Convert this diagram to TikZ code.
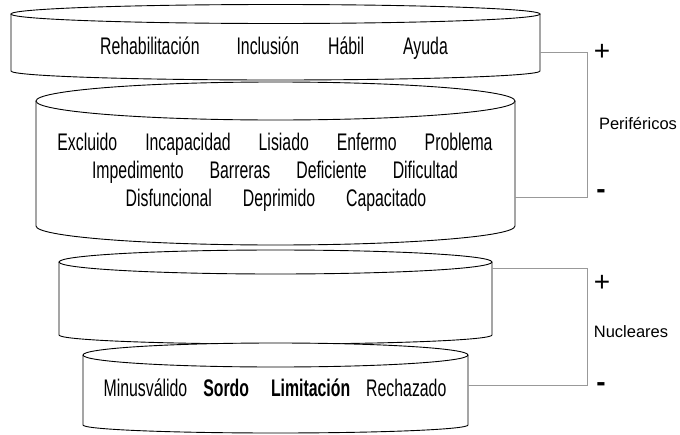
\documentclass[tikz,border=0pt]{standalone}
\usepackage{fontspec}
\setmainfont{Liberation Sans}
\newfontfamily\agency[FakeStretch=0.66]{Liberation Sans}

\begin{document}
\begin{tikzpicture}[x=1pt,y=-1pt]
			\tikzset{drum/.style={draw=black,line width=0.9pt,fill=white}}
			\tikzset{word/.style={font=\agency\fontsize{24}{28}\selectfont,anchor=base,inner sep=0pt}}
			\tikzset{bracket/.style={draw=gray!80,line width=0.8pt}}
			\tikzset{sign/.style={font=\fontsize{28}{32}\selectfont,anchor=base,inner sep=0pt}}
			\tikzset{group/.style={font=\fontsize{16.5}{20}\selectfont,anchor=base,inner sep=0pt}}
			\useasboundingbox (0,0) rectangle (680,434);
			\path[drum] (11,14) -- (11,71) arc[start angle=180,end angle=360,x radius=264.5pt,y radius=9pt] -- (540,14);
			\path[drum] (275.5,14) ellipse[x radius=264.5pt,y radius=9.5pt];
			\path[drum] (36,101) -- (36,226) arc[start angle=180,end angle=360,x radius=239.5pt,y radius=19pt] -- (515,101);
			\path[drum] (275.5,101) ellipse[x radius=239.5pt,y radius=19pt];
			\path[drum] (59,262) -- (59,335) arc[start angle=180,end angle=360,x radius=216.5pt,y radius=9pt] -- (492,262);
			\path[drum] (275.5,262) ellipse[x radius=216.5pt,y radius=12pt];
			\path[drum] (83,355) -- (83,425) arc[start angle=180,end angle=360,x radius=192.5pt,y radius=8pt] -- (468,355);
			\path[drum] (275.5,355) ellipse[x radius=192.5pt,y radius=12pt];
			\node[word] (positivos) at (274,54) {Rehabilitación\hspace{37pt}Inclusión\hspace{29pt}Hábil\hspace{39pt}Ayuda};
			\node[word] (linea1) at (275,150) {Excluido\hspace{28pt}Incapacidad\hspace{28pt}Lisiado\hspace{28pt}Enfermo\hspace{28pt}Problema};
			\node[word] (linea2) at (275,178) {Impedimento\hspace{26pt}Barreras\hspace{26pt}Deficiente\hspace{26pt}Dificultad};
			\node[word] (linea3) at (276,206) {Disfuncional\hspace{31pt}Deprimido\hspace{31pt}Capacitado};
			\node[word] (nucleo) at (275,396) {Minusválido\hspace{16pt}\textbf{Sordo}\hspace{22pt}\textbf{Limitación}\hspace{16pt}Rechazado};
			\coordinate (r1) at (540,52);
			\coordinate (r2) at (515,197);
			\coordinate (r3) at (492,268);
			\coordinate (r4) at (468,385);
			\draw[bracket] (r1) -- ++(47,0) |- (r2);
			\draw[bracket] (r3) -- ++(95,0) |- (r4);
			\node[sign] (masP) at (602,60) {+};
			\node[sign] (menosP) at (601,198) {\textbf{-}};
			\node[group] (perif) at (638,129) {Periféricos};
			\node[sign] (masN) at (602,291) {+};
			\node[sign] (menosN) at (601,391) {\textbf{-}};
			\node[group] (nucl) at (631,337) {Nucleares};
		\end{tikzpicture}
\end{document}
